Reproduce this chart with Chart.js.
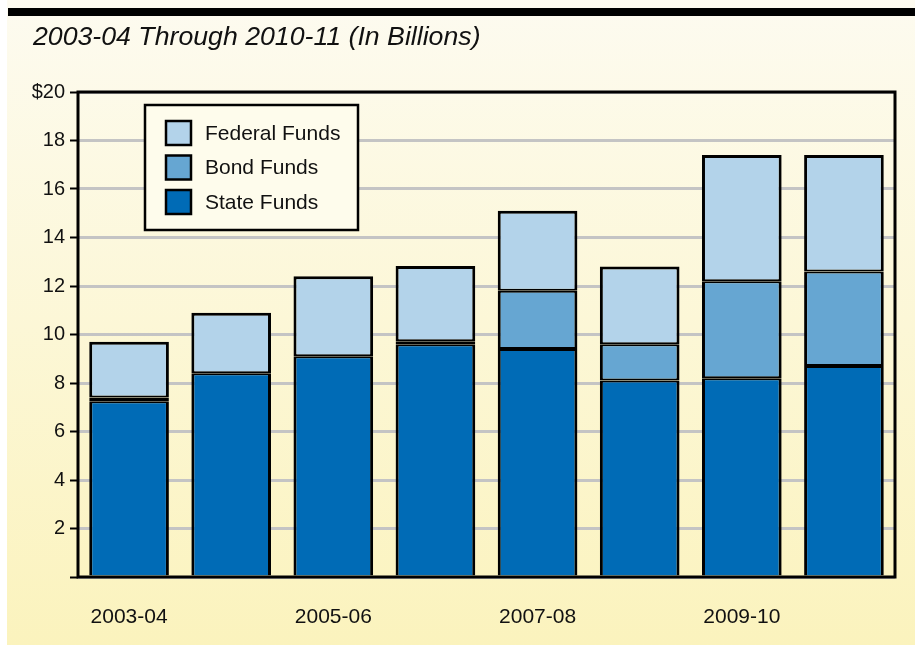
<!DOCTYPE html>
<html>
<head>
<meta charset="utf-8">
<script src="https://cdn.jsdelivr.net/npm/chart.js@4.4.0/dist/chart.umd.min.js"></script>
<style>
html, body { margin: 0; padding: 0; background: #fff; }
#wrap { width: 915px; height: 647px; }
</style>
</head>
<body>
<div id="wrap"><canvas id="graph1" width="915" height="647"></canvas></div>
<script>
var years = ['2003-04', '2004-05', '2005-06', '2006-07', '2007-08', '2008-09', '2009-10', '2010-11'];
var stateFunds = [7.25, 8.4, 9.1, 9.6, 9.4, 8.1, 8.2, 8.7];
var bondFunds = [0.15, 0, 0, 0.12, 2.4, 1.5, 4.0, 3.9];
var federalFunds = [2.3, 2.5, 3.3, 3.1, 3.3, 3.2, 5.2, 4.8];
var yTicks = [0, 2, 4, 6, 8, 10, 12, 14, 16, 18, 20];

var FONT = '"Liberation Sans", Arial, sans-serif';

// fond, bandeau noir, titre, cadre et legende
var frame = {
    id: 'frame',
    beforeDraw: function (chart) {
        var c = chart.ctx;
        c.save();
        c.fillStyle = '#ffffff';
        c.fillRect(0, 0, chart.width, chart.height);
        var g = c.createLinearGradient(0, 0, 0, chart.height);
        g.addColorStop(0, '#fdfbf0');
        g.addColorStop(1, '#fbf3bd');
        c.fillStyle = g;
        c.fillRect(7, 0, chart.width - 7, chart.height - 2);
        c.fillStyle = '#000';
        c.fillRect(8, 8, chart.width - 8, 8);
        c.font = 'italic 26.7px ' + FONT;
        c.fillStyle = '#111';
        c.textBaseline = 'middle';
        c.fillText('2003-04 Through 2010-11 (In Billions)', 33, 38);
        c.restore();
    },
    afterDatasetsDraw: function (chart) {
        var c = chart.ctx;
        var a = chart.chartArea;
        c.save();
        c.strokeStyle = '#000';
        c.lineWidth = 3;
        c.strokeRect(a.left, a.top, a.right - a.left, a.bottom - a.top);

        // legende
        c.fillStyle = '#fefcec';
        c.fillRect(145, 105, 213, 125);
        c.lineWidth = 2.5;
        c.strokeRect(145, 105, 213, 125);
        var sets = chart.data.datasets.slice().reverse();
        c.font = '21px ' + FONT;
        c.textBaseline = 'middle';
        sets.forEach(function (ds, i) {
            var cy = 133 + i * 34.5;
            c.fillStyle = ds.backgroundColor;
            c.fillRect(166, cy - 12, 25, 24);
            c.lineWidth = 2.5;
            c.strokeStyle = '#000';
            c.strokeRect(166, cy - 12, 25, 24);
            c.fillStyle = '#111';
            c.fillText(ds.label, 205, cy + 1);
        });
        c.restore();
    }
};

var data = {
    labels: years,
    datasets: [
        { label: 'State Funds', backgroundColor: '#006bb6', data: stateFunds,
          borderWidth: { top: 2, bottom: 0, left: 3, right: 3 } },
        { label: 'Bond Funds', backgroundColor: '#66a6d2', data: bondFunds,
          borderWidth: { top: 2, bottom: 2, left: 3, right: 3 } },
        { label: 'Federal Funds', backgroundColor: '#b3d3ea', data: federalFunds,
          borderWidth: { top: 3, bottom: 2, left: 3, right: 3 } }
    ]
};

data.datasets.forEach(function (ds) {
    ds.borderColor = '#000';
    ds.borderSkipped = false;
    ds.barPercentage = 0.78;
    ds.categoryPercentage = 1;
});

var config = {
    type: 'bar',
    data: data,
    plugins: [frame],
    options: {
        responsive: false,
        animation: false,
        layout: { padding: { top: 92, right: 20, left: 0, bottom: 0 } },
        plugins: {
            legend: { display: false },
            tooltip: { enabled: false }
        },
        scales: {
            x: {
                stacked: true,
                grid: { display: false },
                border: { display: false },
                ticks: {
                    color: '#111',
                    font: { family: FONT, size: 21 },
                    padding: 20,
                    autoSkip: false,
                    maxRotation: 0,
                    callback: function (v, i) { return i % 2 === 0 ? years[i] : ''; }
                },
                afterFit: function (s) { s.height = 70; }
            },
            y: {
                stacked: true,
                min: 0,
                max: 20,
                afterBuildTicks: function (s) {
                    s.ticks = yTicks.map(function (v) { return { value: v }; });
                },
                grid: {
                    color: '#c4c4c4',
                    lineWidth: 3,
                    tickColor: '#000',
                    tickLength: 8,
                    tickWidth: 2
                },
                border: { display: false },
                ticks: {
                    color: '#111',
                    font: { family: FONT, size: 20 },
                    padding: 5,
                    callback: function (v) {
                        if (v === 0) return '';
                        return v === 20 ? '$20' : v;
                    }
                },
                afterFit: function (s) { s.width = 78; }
            }
        }
    }
};

var graph1 = new Chart(document.getElementById('graph1').getContext('2d'), config);
</script>
</body>
</html>
